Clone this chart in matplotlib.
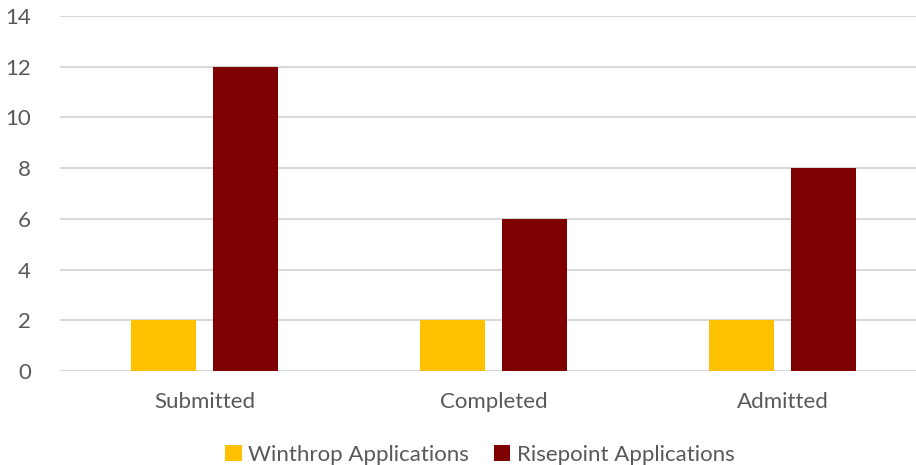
import matplotlib.pyplot as plt
import numpy as np

# data
categories = ['Submitted', 'Completed', 'Admitted']
winthrop = [2, 2, 2]
risepoint = [12, 6, 8]
series_names = ['Winthrop Applications', 'Risepoint Applications']

yellow = '#FFC000'
maroon = '#7F0000'
txt = '#595959'

plt.rcParams['font.family'] = ['Lato', 'DejaVu Sans']

fig = plt.figure(figsize=(9.16, 4.65), dpi=100)
ax = fig.add_axes([60 / 916, 94 / 465, 867 / 916, 355 / 465])

x = np.arange(len(categories))
w = 0.225
off = 0.142
ax.bar(x - off, winthrop, w, color=yellow, label=series_names[0], zorder=3)
ax.bar(x + off, risepoint, w, color=maroon, label=series_names[1], zorder=3)

ax.set_xlim(-0.5, 2.5)
ax.set_ylim(0, 14)
ax.set_yticks(range(0, 15, 2))
ax.set_xticks(x)
ax.set_xticklabels(categories)
ax.grid(axis='y', color='#D9D9D9', linewidth=1.5, zorder=0)
ax.set_axisbelow(True)
for s in ax.spines.values():
    s.set_visible(False)
ax.tick_params(axis='both', length=0, labelsize=16, labelcolor=txt)
ax.tick_params(axis='y', pad=21)
ax.tick_params(axis='x', pad=15)

fig.legend(loc='center', bbox_to_anchor=(480 / 916, 1 - 455 / 465), ncol=2,
           frameon=False, fontsize=16, labelcolor=txt, handlelength=0.75,
           handleheight=0.75, handletextpad=0.3, columnspacing=1.1)

fig.savefig('out.png', dpi=100)
